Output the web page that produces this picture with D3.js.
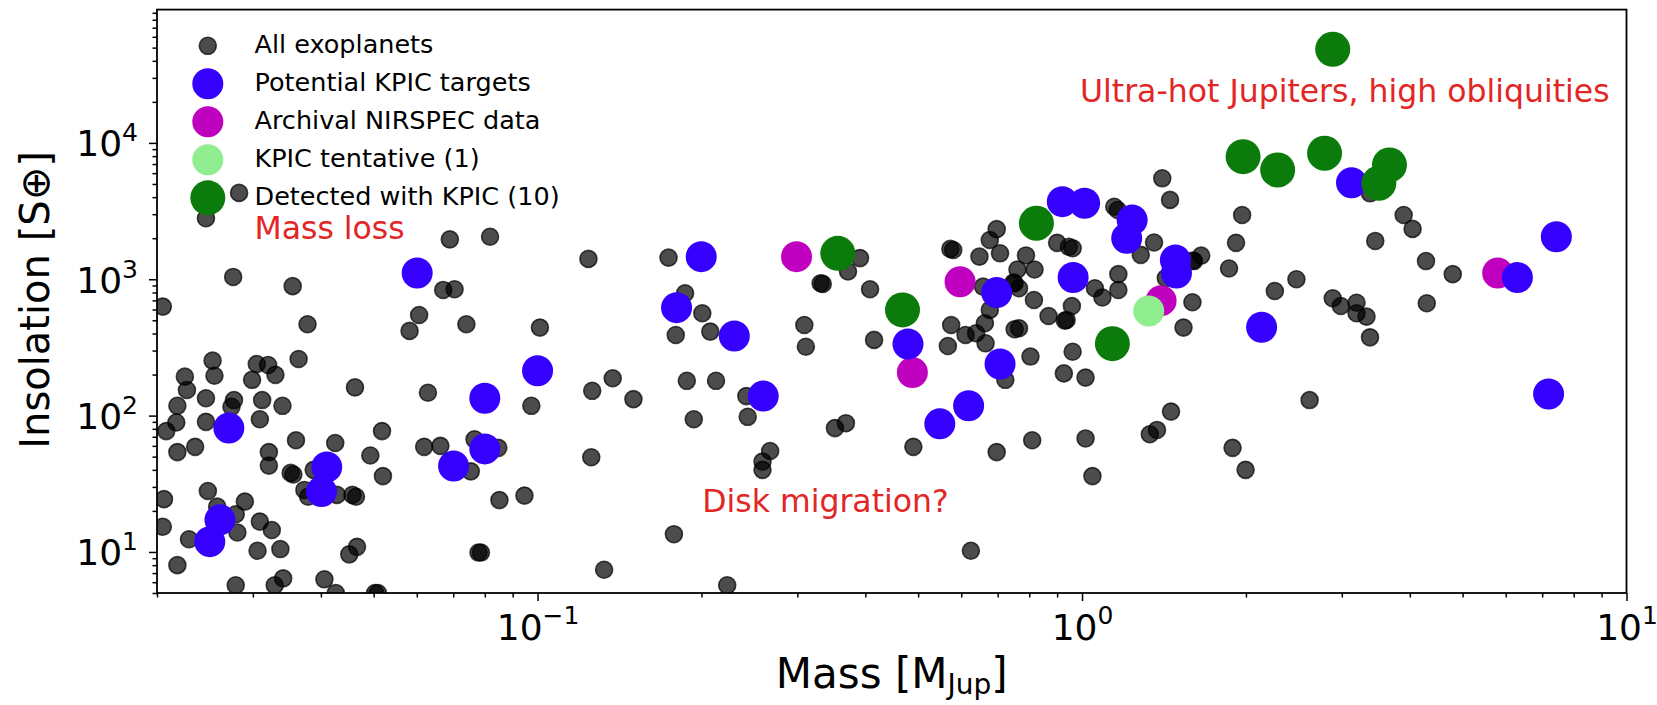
<!DOCTYPE html>
<html><head><meta charset="utf-8">
<script src="https://cdn.jsdelivr.net/npm/d3@7"></script>
<style>
html,body{margin:0;padding:0;background:#fff;}
svg{display:block;font-family:"DejaVu Sans",Verdana,sans-serif;}
</style></head><body>
<svg id="chart" width="1657" height="705"></svg>
<script>
// ---------------- DATA ----------------
// All exoplanets: mass [M_Jup], insolation [S_earth]
const allMass = [0.0283,0.0246,0.069,0.0818,0.124,0.0205,0.0276,0.0355,0.0378,0.0364,0.0253,0.0225,0.0255,0.0227,0.0218,0.0246,0.0277,0.0274,0.0305,0.032,0.033,0.0299,0.0312,0.034,0.0309,0.0246,0.0217,0.0208,0.0218,0.0235,0.0321,0.0321,0.036,0.0425,0.0493,0.0518,0.0462,0.0629,0.0582,0.0606,0.0671,0.0704,0.074,0.101,0.0974,0.126,0.1255,0.0619,0.0663,0.0766,0.0847,0.0754,0.0352,0.0356,0.052,0.0388,0.0206,0.0205,0.0229,0.0218,0.0248,0.0258,0.0279,0.0281,0.029,0.0309,0.0325,0.0306,0.0337,0.0279,0.0329,0.0341,0.0406,0.0426,0.0451,0.0466,0.0373,0.0379,0.0428,0.0457,0.0464,0.0503,0.0509,0.0779,0.0787,0.0851,0.0946,0.1325,0.174,0.391,0.573,0.58,0.648,0.677,0.697,0.707,0.789,0.900,0.946,0.961,1.146,1.163,0.1866,0.2007,0.1794,0.2076,0.1374,0.150,0.188,0.2127,0.1936,0.2432,0.2418,0.2674,0.2589,0.2589,0.3517,0.3684,0.3717,0.331,0.334,0.408,0.309,0.311,0.415,0.490,0.761,0.818,0.677,0.663,0.575,0.611,0.639,0.665,0.567,0.658,0.752,0.748,0.766,0.816,0.752,0.766,0.804,0.723,0.868,0.930,0.937,0.958,0.961,0.926,1.015,1.056,1.09,1.166,1.166,0.697,0.810,1.015,1.045,0.178,0.223,0.625,3.38,1.404,1.451,1.968,1.918,3.456,3.897,4.047,1.356,1.282,1.655,4.283,1.599,1.605,1.862,1.425,1.595,1.536,2.26,2.476,2.887,2.988,3.193,3.193,3.33,3.38,4.796,4.297,2.618,1.457,1.373,1.332,1.89,1.997];
const allInsol = [4300,2800,1960,2050,1410,630,1040,890,468,260,253,193,196,154,118,134,130,116,239,235,199,183,130,118,94,90,89,77,54,59,54,43,66,63,51,77,161,147,418,547,835,845,468,442,118,152,49.5,59,60,67,58,39,38,37,36,40,24.4,15.3,12.4,8.0,28,21.5,18.9,13.9,23.4,16.7,14.5,10.2,10.5,5.7,5.7,6.4,6.3,5.0,9.6,10.9,28.5,25.4,26.2,26.2,25.4,5.0,5.0,9.9,9.9,24,25.9,7.4,1440,1430,1670,1640,1465,1940,2330,1550,1495,1850,1730,1690,3400,3220,790,563,390,413,188,132,180,180,94,98,139,55,46,40,81,88,1140,935,925,845,462,320,359,59,1180,1180,596,476,462,390,402,339,324,883,935,945,859,705,430,437,271,183,538,497,503,637,294,204,190,859,735,1090,835,54,66,68,36,13.5,5.7,10.2,4270,5500,3820,2960,1850,1910,2960,2340,1860,1510,1490,1360,1370,1360,1200,1020,678,442,820,1000,726,637,673,563,532,375,1090,667,130,107,78.5,73,58,40];

// Potential KPIC targets
const targetMass  = [0.0601,0.0271,0.041,0.0401,0.0701,0.080,0.080,0.100,0.025,0.0261,0.1998,0.180,0.2298,0.2597,0.479,0.548,0.619,0.697,0.707,0.963,0.920,1.011,1.236,1.208,1.484,1.491,2.137,3.126,6.304,7.433,7.193];
const targetInsol = [1110,81,42,27.7,42.7,57,134,213,11.9,17.2,1465,619,384,139,335,87,118,798,239,1030,3710,3610,2720,2000,1385,1110,445,5110,1030,2050,144];

// Archival NIRSPEC data
const nirspecMass  = [0.299,0.488,0.597,1.397,5.80];
const nirspecInsol = [1465,207,960,697,1110];

// KPIC tentative (1)
const tentativeMass  = [1.326];
const tentativeInsol = [585];

// Detected with KPIC (10)
const detectedMass  = [2.887,1.976,2.287,2.789,3.67,3.508,0.8245,0.468,0.356,1.137];
const detectedInsol = [48600,7930,6330,8400,6890,5060,2575,596,1550,337];

// Axis ticks & labels
const xMajorTicks = [0.1, 1, 10];
const xTickExp    = ["\u22121", "0", "1"];
const yMajorTicks = [10, 100, 1000, 10000];
const yTickExp    = ["1", "2", "3", "4"];
const legendLabels = ["All exoplanets","Potential KPIC targets","Archival NIRSPEC data","KPIC tentative (1)","Detected with KPIC (10)"];
const annotations = ["Ultra-hot Jupiters, high obliquities","Mass loss","Disk migration?"];

// ---------------- CHART ----------------
const svg = d3.select("#chart");
const L = 157, R = 1626.5, T = 9.6, B = 593;
const x = d3.scaleLog().domain([0.02, 10]).range([L, R]);
const y = d3.scaleLog().domain([5, 95000]).range([B, T]);

const colors = {gray:"#000000", blue:"#3600ff", mag:"#bf00bf", lg:"#90ee90", green:"#0b7c0b", red:"#e22626"};

svg.append("rect").attr("width",1657).attr("height",705).attr("fill","#fff");
svg.append("defs").append("clipPath").attr("id","plotclip")
  .append("rect").attr("x",L).attr("y",T).attr("width",R-L).attr("height",B-T);

const plot = svg.append("g").attr("clip-path","url(#plotclip)");

function zip(a,b){ return a.map((v,i)=>[v,b[i]]); }

plot.append("g").selectAll("circle").data(zip(allMass,allInsol)).join("circle")
  .attr("cx",d=>x(d[0])).attr("cy",d=>y(d[1])).attr("r",8.5)
  .attr("fill","#000").attr("fill-opacity",0.7)
  .attr("stroke","#000").attr("stroke-opacity",0.7).attr("stroke-width",1.6);

function series(m,s,color,r){
  plot.append("g").selectAll("circle").data(zip(m,s)).join("circle")
    .attr("cx",d=>x(d[0])).attr("cy",d=>y(d[1])).attr("r",r).attr("fill",color);
}
series(nirspecMass,nirspecInsol,colors.mag,15.5);
series(targetMass,targetInsol,colors.blue,15.5);
series(tentativeMass,tentativeInsol,colors.lg,15.5);
series(detectedMass,detectedInsol,colors.green,17.5);

// minor tick generator
function minors(dom){
  const out=[];
  for(let e=-3;e<=6;e++) for(let k=2;k<=9;k++){
    const v=k*Math.pow(10,e);
    if(v>=dom[0]*0.9999 && v<=dom[1]*1.0001) out.push(v);
  }
  return out;
}

// X axis
const gx = svg.append("g").attr("transform",`translate(0,${B})`);
gx.append("g").call(d3.axisBottom(x).tickValues(minors(x.domain())).tickSize(4.5).tickFormat(""))
  .call(g=>g.select(".domain").remove());
const gxM = gx.append("g").call(d3.axisBottom(x).tickValues(xMajorTicks).tickSize(8).tickFormat(""))
  .call(g=>g.select(".domain").remove());
gx.selectAll("line").attr("stroke","#000").attr("stroke-width",1.5);
gxM.selectAll(".tick").each(function(d,i){
  const t = d3.select(this).append("text").attr("y",47).attr("fill","#000")
    .attr("text-anchor","middle").style("font-size","36px").style("font-family","DejaVu Sans");
  t.append("tspan").text("10");
  t.append("tspan").attr("dy",-16).style("font-size","25px").text(xTickExp[i]);
});

// Y axis
const gy = svg.append("g").attr("transform",`translate(${L},0)`);
gy.append("g").call(d3.axisLeft(y).tickValues(minors(y.domain())).tickSize(4.5).tickFormat(""))
  .call(g=>g.select(".domain").remove());
const gyM = gy.append("g").call(d3.axisLeft(y).tickValues(yMajorTicks).tickSize(8).tickFormat(""))
  .call(g=>g.select(".domain").remove());
gy.selectAll("line").attr("stroke","#000").attr("stroke-width",1.5);
gyM.selectAll(".tick").each(function(d,i){
  const t = d3.select(this).append("text").attr("x",-19).attr("y",13).attr("fill","#000")
    .attr("text-anchor","end").style("font-size","36px").style("font-family","DejaVu Sans");
  t.append("tspan").text("10");
  t.append("tspan").attr("dy",-15).style("font-size","25px").text(yTickExp[i]);
});

// Frame
svg.append("rect").attr("x",L).attr("y",T).attr("width",R-L).attr("height",B-T)
  .attr("fill","none").attr("stroke","#000").attr("stroke-width",1.8);

// Axis titles
const xt = svg.append("text").attr("x",(L+R)/2).attr("y",688).attr("text-anchor","middle")
  .style("font-size","42px").attr("fill","#000");
xt.append("tspan").text("Mass [M");
xt.append("tspan").attr("dy",6).style("font-size","28px").text("Jup");
xt.append("tspan").attr("dy",-6).text("]");

svg.append("text").attr("transform","translate(49,300) rotate(-90)").attr("text-anchor","middle")
  .style("font-size","40px").attr("fill","#000").text("Insolation [S\u2295]");

// Legend
const legColors = [null, colors.blue, colors.mag, colors.lg, colors.green];
const legR = [9.5, 15.5, 15.5, 15.5, 17.5];
const leg = svg.append("g");
legendLabels.forEach((lab,i)=>{
  const by = 53.3 + i*38;
  const c = leg.append("circle").attr("cx",207.8).attr("cy",by-7.5).attr("r",legR[i]);
  if(i===0){ c.attr("r",8.5).attr("fill","#000").attr("fill-opacity",0.7).attr("stroke","#000").attr("stroke-opacity",0.7).attr("stroke-width",1.6); }
  else c.attr("fill",legColors[i]);
  leg.append("text").attr("x",254.5).attr("y",by).style("font-size","25.5px").attr("fill","#000").text(lab);
});

// Annotations
svg.append("text").attr("x",1080).attr("y",101.7).style("font-size","31.5px").attr("fill",colors.red).text(annotations[0]);
svg.append("text").attr("x",254.5).attr("y",239.3).style("font-size","31.5px").attr("fill",colors.red).text(annotations[1]);
svg.append("text").attr("x",702.3).attr("y",511.7).style("font-size","31.5px").attr("fill",colors.red).text(annotations[2]);
</script>
</body></html>
